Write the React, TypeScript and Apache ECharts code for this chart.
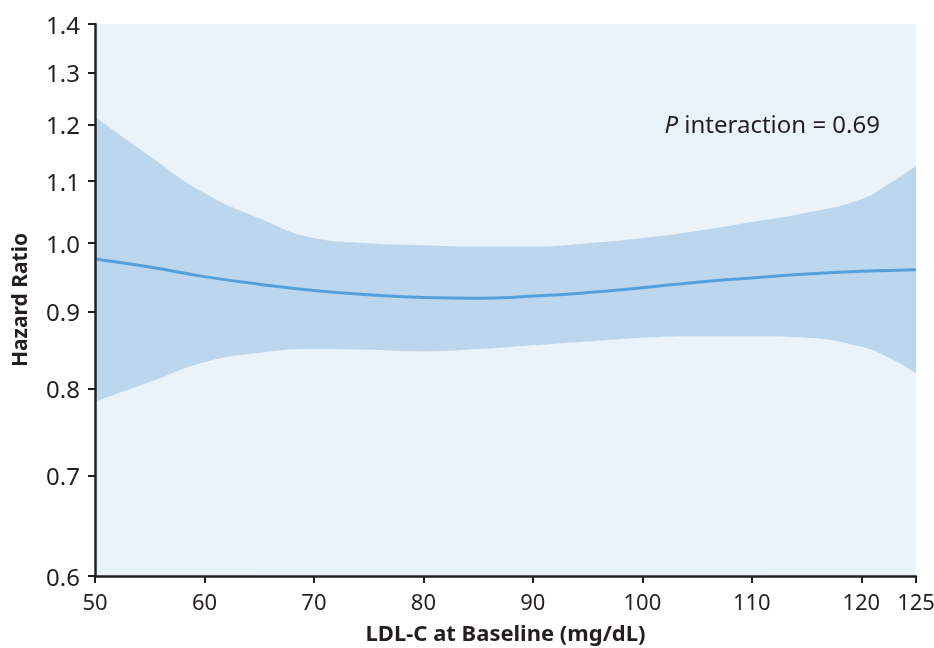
import React, { useEffect, useRef } from "react";
import * as echarts from "echarts";

const ldl = [50, 55, 60, 65, 70, 75, 80, 85, 90, 95, 100, 105, 110, 115, 120, 122.5, 125];
const hrCentral = [0.976, 0.964, 0.95, 0.939, 0.93, 0.924, 0.92, 0.919, 0.922, 0.927, 0.934, 0.942, 0.948, 0.954, 0.958, 0.959, 0.96];
const hrUpper = [1.214, 1.143, 1.08, 1.039, 1.008, 1.0, 0.997, 0.995, 0.995, 1.0, 1.008, 1.019, 1.033, 1.048, 1.07, 1.095, 1.126];
const hrLower = [0.784, 0.808, 0.833, 0.845, 0.85, 0.849, 0.847, 0.85, 0.855, 0.86, 0.865, 0.867, 0.867, 0.865, 0.853, 0.839, 0.819];
const yTicks = [0.6, 0.7, 0.8, 0.9, 1.0, 1.1, 1.2, 1.3, 1.4];
const xTicks = [50, 60, 70, 80, 90, 100, 110, 120, 125];

const FONT = "'Noto Sans', 'Open Sans', sans-serif";
const INK = "#231f20";
const BG = "#eaf2fa";
const BAND = "#bcd6ee";
const Y0 = 0.6;

export default function App() {
  const ref = useRef<HTMLDivElement>(null);
  useEffect(() => {
    if (!ref.current) return;
    const chart = echarts.init(ref.current, null, { renderer: "svg" });
    // log-scale transform relative to the axis minimum
    const t = (v: number) => Math.log(v / Y0);
    const upperData = ldl.map((x, i) => [x, t(hrUpper[i])]);
    const lowerData = ldl.map((x, i) => [x, t(hrLower[i])]);
    const centralData = ldl.map((x, i) => [x, t(hrCentral[i])]);
    chart.setOption({
      animation: false,
      grid: {
        left: 95,
        right: 18,
        top: 24,
        bottom: 72,
        show: true,
        backgroundColor: BG,
        borderWidth: 0,
        outerBoundsMode: "none",
        containLabel: false,
      },
      xAxis: {
        type: "value",
        min: 50,
        max: 125,
        name: "LDL-C at Baseline (mg/dL)",
        nameLocation: "middle",
        nameGap: 45,
        nameTextStyle: { fontFamily: FONT, fontSize: 22, fontWeight: "bold", color: INK },
        axisLine: { show: true, onZero: false, lineStyle: { color: INK, width: 2.5 } },
        axisTick: { show: true, length: 7, lineStyle: { color: INK, width: 2 }, customValues: xTicks },
        axisLabel: {
          customValues: xTicks,
          fontFamily: FONT,
          fontSize: 22,
          color: INK,
          margin: 14,
        },
        splitLine: { show: false },
        z: 10,
      },
      yAxis: {
        type: "value",
        min: 0,
        max: t(1.4),
        name: "Hazard Ratio",
        nameLocation: "middle",
        nameGap: 66,
        nameRotate: 90,
        nameTextStyle: { fontFamily: FONT, fontSize: 21, fontWeight: "bold", color: INK },
        axisLine: { show: true, onZero: false, lineStyle: { color: INK, width: 2.5 } },
        axisTick: { show: true, length: 7, lineStyle: { color: INK, width: 2 }, customValues: yTicks.map(t) },
        axisLabel: {
          customValues: yTicks.map(t),
          formatter: (v: number) => (Math.exp(v) * Y0).toFixed(1),
          fontFamily: FONT,
          fontSize: 24,
          color: INK,
          margin: 15,
        },
        splitLine: { show: false },
        z: 10,
      },
      graphic: [
        {
          type: "text",
          right: 54,
          top: 111,
          z: 100,
          style: {
            text: "{i|P} interaction = 0.69",
            fontFamily: FONT,
            fontSize: 24,
            fill: INK,
            rich: {
              i: { fontStyle: "italic", fontFamily: FONT, fontSize: 24, fill: INK },
            },
          },
        },
      ],
      series: [
        {
          name: "upper",
          type: "line",
          data: upperData,
          smooth: true,
          symbol: "none",
          lineStyle: { width: 0, color: BAND },
          areaStyle: { color: BAND, opacity: 1, origin: "start" },
          silent: true,
          z: 1,
        },
        {
          name: "lower",
          type: "line",
          data: lowerData,
          smooth: true,
          symbol: "none",
          lineStyle: { width: 0, color: BG },
          areaStyle: { color: BG, opacity: 1, origin: "start" },
          silent: true,
          z: 2,
        },
        {
          name: "HR",
          type: "line",
          data: centralData,
          smooth: true,
          symbol: "none",
          lineStyle: { color: "#55a0db", width: 3 },
          z: 5,
        },
      ],
    });
    return () => chart.dispose();
  }, []);
  return <div ref={ref} style={{ position: "fixed", left: 0, top: 0, width: 934, height: 648 }} />;
}
